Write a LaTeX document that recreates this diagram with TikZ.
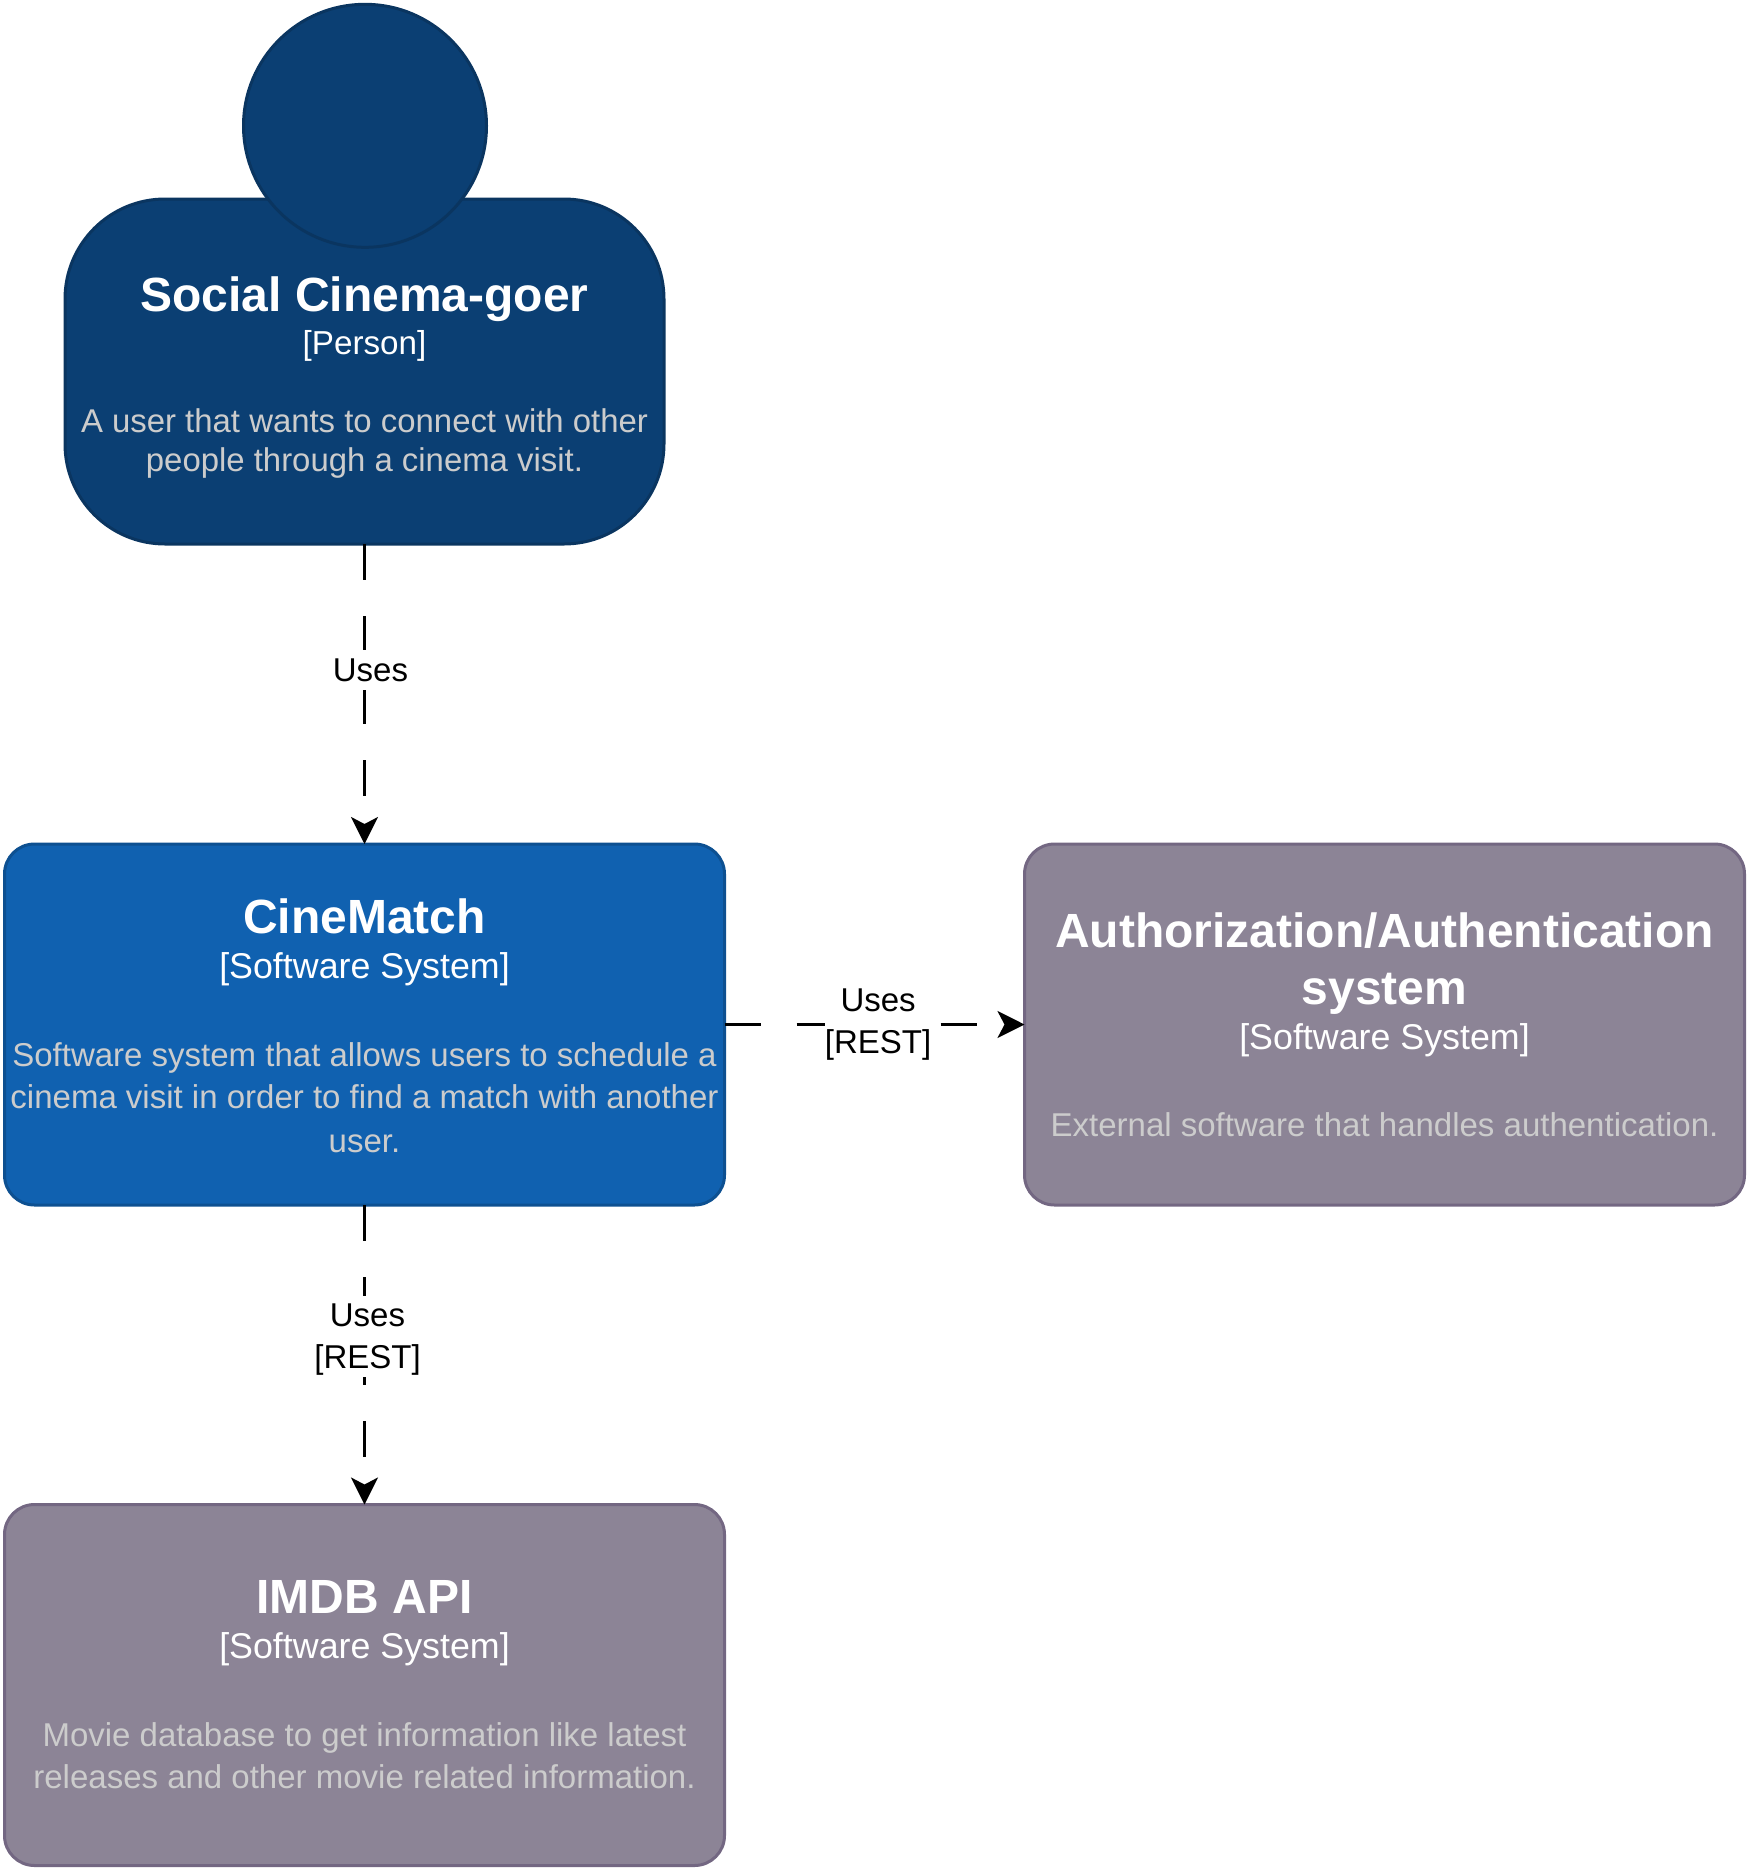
\documentclass[tikz,border=0pt]{standalone}
\usepackage{fontspec}
\setmainfont{Liberation Sans}
\usepackage{xcolor}
\usepackage{tikz}
\usetikzlibrary{arrows.meta,positioning}
\definecolor{persondark}{HTML}{0B3F73}
\definecolor{personline}{HTML}{0A3560}
\definecolor{sysblue}{HTML}{1061B0}
\definecolor{sysline}{HTML}{0D5091}
\definecolor{extgrey}{HTML}{8C8496}
\definecolor{extline}{HTML}{736782}
\definecolor{desctext}{HTML}{CCCCCC}
\newcommand{\boxtitle}[1]{{\fontsize{24}{26}\selectfont\bfseries\color{white}#1}}
\newcommand{\boxtype}[2][17.9]{{\fontsize{#1}{21}\selectfont\color{white}#2}}

\begin{document}
\begin{tikzpicture}[x=0.5pt,y=-0.5pt,
    box/.style={draw,line width=1.5pt,rounded corners=15pt,align=center,inner sep=0pt,outer sep=0pt,
      minimum width=360pt,minimum height=180.5pt,text=desctext,
      font=\fontsize{16.5}{21}\selectfont},
    persona/.style={box,fill=persondark,draw=personline,rounded corners=50pt,
      minimum width=299.5pt,minimum height=172.5pt,font=\fontsize{16.45}{19.3}\selectfont},
    head/.style={circle,draw=personline,fill=persondark,line width=1.5pt,minimum size=121.5pt,inner sep=0pt},
    ownsys/.style={box,fill=sysblue,draw=sysline},
    extsys/.style={box,fill=extgrey,draw=extline},
    uses/.style={draw=black,line width=1.4pt,dash pattern=on 18pt off 18pt,
      -{Stealth[length=13.5pt,width=13.5pt,inset=3.5pt]}},
    useslabel/.style={fill=white,inner sep=0pt,align=center,text=black,
      font=\fontsize{16.5}{21}\selectfont}]
  \useasboundingbox (0,0) rectangle (1749,1869);
  % person
  \node[persona] (goer) at (364.5,371.5)
    {\rule{0pt}{23pt}\boxtitle{Social Cinema-goer}\\[2.5pt]
     \boxtype[16.6]{[Person]}\\[19.6pt]
     A user that wants to connect with other\\
     people through a cinema visit.};
  \node[head] (goerhead) at (365,125.8) {};
  % systems
  \node[ownsys] (cinematch) at (364.5,1024.5)
    {\rule{0pt}{18.8pt}\boxtitle{CineMatch}\\[1.5pt]
     \boxtype{[Software System]}\\[23pt]
     Software system that allows users to schedule a\\
     cinema visit in order to find a match with another\\[1pt]
     user.};
  \node[extsys] (auth) at (1384.5,1024.5)
    {\boxtitle{Authorization/Authentication}\\[7.4pt]
     \boxtitle{system}\\[1.6pt]
     \boxtype{[Software System]}\\[22.4pt]
     External software that handles authentication.};
  \node[extsys] (imdb) at (364.5,1685)
    {\boxtitle{IMDB API}\\[1.5pt]
     \boxtype{[Software System]}\\[23pt]
     Movie database to get information like latest\\
     releases and other movie related information.};
  % connectors
  \draw[uses] (goer) -- node[useslabel,xshift=3pt,pos=0.42,minimum height=20pt] (lblgoer) {Uses} (cinematch);
  \draw[uses] (cinematch) -- node[useslabel,xshift=1.8pt,pos=0.5] (lblauth) {Uses\\{}[REST]} (auth);
  \draw[uses] (cinematch) -- node[useslabel,xshift=1.5pt,pos=0.44,minimum height=40.5pt] (lblimdb) {\rule{0pt}{14.4pt}Uses\\{}[REST]} (imdb);
\end{tikzpicture}
\end{document}
